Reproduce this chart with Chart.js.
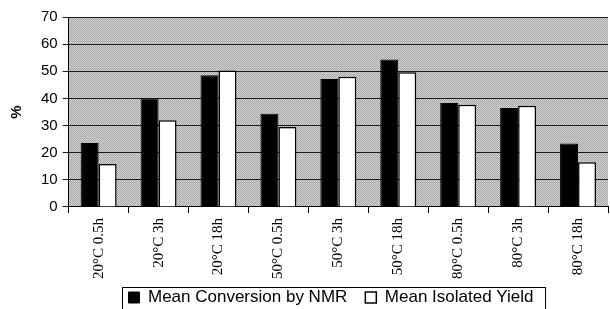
<!DOCTYPE html>
<html>
<head>
<meta charset="utf-8">
<script src="https://cdn.jsdelivr.net/npm/chart.js@4"></script>
<style>
  html, body { margin: 0; padding: 0; background: #fff; }
  #wrap { width: 610px; height: 309px; }
</style>
</head>
<body>
<div id="wrap"><canvas id="yieldChart" width="610" height="309"></canvas></div>
<script>
// conditions (temperature + reaction time)
const conditions = ["20°C 0.5h", "20°C 3h", "20°C 18h", "50°C 0.5h", "50°C 3h",
  "50°C 18h", "80°C 0.5h", "80°C 3h", "80°C 18h"];
const conversionNMR = [23.6, 40, 48.5, 34.4, 47.2, 54.3, 38.3, 36.5, 23.4];
const isolatedYield = [15.8, 32, 50.3, 29.5, 48, 49.6, 37.7, 37.3, 16.5];
const yTicks = [0, 10, 20, 30, 40, 50, 60, 70];

// halftone-ish grey for the plot background
function greyPattern(ctx) {
  const c = document.createElement("canvas");
  c.width = 2; c.height = 2;
  const p = c.getContext("2d");
  p.fillStyle = "#d6d6d6"; p.fillRect(0, 0, 2, 2);
  p.fillStyle = "#a4a4a4"; p.fillRect(0, 0, 1, 1); p.fillRect(1, 1, 1, 1);
  return ctx.createPattern(c, "repeat");
}

const plotBackground = {
  id: "plotBackground",
  beforeDraw(chart) {
    const { ctx, chartArea: a } = chart;
    ctx.save();
    ctx.fillStyle = greyPattern(ctx);
    ctx.fillRect(a.left, a.top, a.right - a.left, a.bottom - a.top);
    ctx.restore();
  }
};

// legend sits a bit right of centre in the original
const legendShift = {
  id: "legendShift",
  afterLayout(chart) {
    const lg = chart.legend;
    const dx = 23, dy = -13;
    lg.left += dx; lg.right += dx;
    lg.top += dy; lg.bottom += dy;
  }
};

// thin frame round the legend, like the original
const legendFrame = {
  id: "legendFrame",
  afterDraw(chart) {
    const boxes = chart.legend.legendHitBoxes;
    if (!boxes || !boxes.length) return;
    const left = Math.min(...boxes.map(b => b.left)) - 6;
    const right = Math.max(...boxes.map(b => b.left + b.width)) + 12;
    const top = Math.min(...boxes.map(b => b.top)) - 2;
    const ctx = chart.ctx;
    ctx.save();
    ctx.strokeStyle = "#000";
    ctx.lineWidth = 1;
    ctx.strokeRect(Math.round(left) + 0.5, Math.round(top) + 0.5, right - left, 40);
    ctx.restore();
  }
};

const ctx = document.getElementById("yieldChart").getContext("2d");

new Chart(ctx, {
  type: "bar",
  data: {
    labels: conditions,
    datasets: [
      {
        label: "Mean Conversion by NMR",
        data: conversionNMR,
        backgroundColor: "#000",
        borderColor: "#000",
        borderWidth: 1,
      },
      {
        label: "Mean Isolated Yield",
        data: isolatedYield,
        backgroundColor: "#fff",
        borderColor: "#000",
        borderWidth: 1.5,
      },
    ],
  },
  options: {
    responsive: false,
    animation: false,
    devicePixelRatio: 1,
    layout: { padding: { left: 8, right: 2, top: 17, bottom: -20 } },
    datasets: { bar: { categoryPercentage: 0.6, barPercentage: 1 } },
    plugins: {
      tooltip: { enabled: false },
      legend: {
        position: "bottom",
        labels: {
          color: "#000",
          font: { family: "Liberation Sans, Arial", size: 17 },
          boxWidth: 11,
          boxHeight: 11,
          padding: 18,
          useBorderRadius: false,
        },
      },
    },
    scales: {
      x: {
        grid: { drawOnChartArea: false, tickLength: 6, color: "#000", offset: true },
        border: { color: "#000" },
        ticks: {
          color: "#000",
          maxRotation: 90,
          minRotation: 90,
          padding: 5,
          font: { family: "Liberation Serif, Times New Roman", size: 15 },
        },
      },
      y: {
        min: 0,
        max: 70,
        afterBuildTicks(axis) { axis.ticks = yTicks.map(v => ({ value: v })); },
        grid: { color: "#1a1a1a", tickLength: 6 },
        border: { color: "#000" },
        ticks: {
          color: "#000",
          padding: 5,
          font: { family: "Liberation Sans, Arial", size: 15 },
        },
        title: {
          display: true,
          text: "%",
          color: "#000",
          padding: { top: 0, bottom: 10 },
          font: { family: "Liberation Sans, Arial", size: 15, weight: "bold" },
        },
      },
    },
  },
  plugins: [plotBackground, legendShift, legendFrame],
});
</script>
</body>
</html>
